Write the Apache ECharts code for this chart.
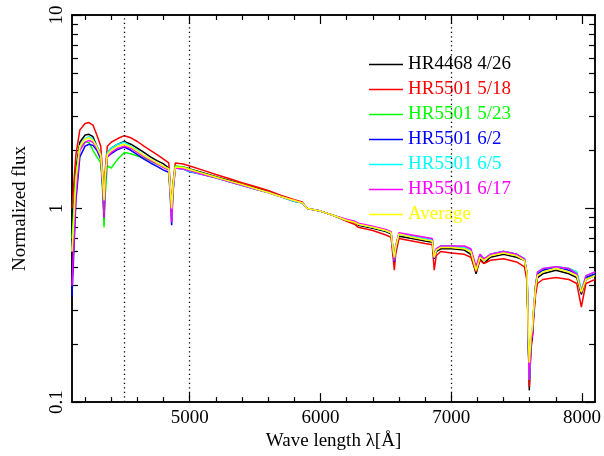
<!DOCTYPE html>
<html>
<head>
<meta charset="utf-8">
<script src="https://cdn.jsdelivr.net/npm/echarts@6/dist/echarts.min.js"></script>
<style>
  html, body { margin: 0; padding: 0; background: #fff; }
  #main { width: 604px; height: 456px; }
</style>
</head>
<body>
<div id="main"></div>
<script>
// wavelength grid (Angstrom) shared by all spectra
const wavelength = [
  4100, 4130, 4160, 4200, 4230, 4260, 4290, 4320, 4335, 4345,
  4355, 4370, 4400, 4450, 4500, 4550, 4600, 4650, 4700, 4750,
  4800, 4840, 4852, 4862, 4872, 4890, 4950, 5000, 5100, 5200,
  5300, 5400, 5500, 5600, 5700, 5800, 5860, 5900, 6000, 6100,
  6200, 6260, 6290, 6400, 6500, 6540, 6555, 6565, 6575, 6600,
  6700, 6800, 6855, 6870, 6885, 6920, 7000, 7100, 7150, 7190,
  7220, 7250, 7300, 7400, 7500, 7560, 7580, 7590, 7597, 7610,
  7620, 7630, 7645, 7660, 7700, 7800, 7900, 7960, 7995, 8030,
  8100
];

const hr4468_0426 = [
  0.75, 1.6, 2.2, 2.40, 2.42, 2.35, 2.1, 1.9, 1.4, 1.05,
  1.5, 1.95, 2.05, 2.15, 2.22, 2.15, 2.05, 1.95, 1.85, 1.77,
  1.7, 1.62, 1.25, 0.95, 1.3, 1.65, 1.64, 1.6, 1.53, 1.46,
  1.40, 1.34, 1.28, 1.22, 1.16, 1.10, 1.07, 1.0, 0.97, 0.92,
  0.87, 0.85, 0.82, 0.79, 0.76, 0.74, 0.6, 0.53, 0.62, 0.72,
  0.70, 0.68, 0.67, 0.55, 0.6, 0.62, 0.62, 0.61, 0.58, 0.46,
  0.55, 0.52, 0.56, 0.58, 0.56, 0.54, 0.45, 0.2, 0.115, 0.2,
  0.22, 0.28, 0.38, 0.44, 0.46, 0.48, 0.46, 0.44, 0.36, 0.43,
  0.45
];
const hr5501_0518 = [
  1.0, 1.9, 2.55, 2.75, 2.78, 2.7, 2.4, 2.1, 1.5, 1.1,
  1.6, 2.1, 2.2, 2.3, 2.38, 2.32, 2.22, 2.1, 2.0, 1.9,
  1.8, 1.72, 1.3, 0.98, 1.35, 1.72, 1.7, 1.66, 1.58, 1.5,
  1.43, 1.36, 1.3, 1.24, 1.17, 1.11, 1.08, 1.0, 0.97, 0.92,
  0.86, 0.83, 0.8, 0.77, 0.73, 0.71, 0.56, 0.48, 0.58, 0.70,
  0.68, 0.66, 0.65, 0.48, 0.57, 0.6, 0.59, 0.58, 0.56, 0.47,
  0.54, 0.52, 0.54, 0.55, 0.53, 0.5, 0.42, 0.2, 0.12, 0.19,
  0.21, 0.27, 0.36, 0.41, 0.43, 0.44, 0.43, 0.41, 0.31, 0.41,
  0.43
];
const hr5501_0523 = [
  0.7, 1.5, 2.1, 2.2, 2.2, 2.0, 1.85, 1.72, 1.2, 0.8,
  1.2, 1.66, 1.62, 1.8, 1.95, 1.92, 1.87, 1.82, 1.76, 1.7,
  1.64, 1.6, 1.2, 0.92, 1.3, 1.66, 1.64, 1.59, 1.52, 1.45,
  1.38, 1.32, 1.26, 1.21, 1.15, 1.09, 1.07, 1.0, 0.97, 0.92,
  0.87, 0.86, 0.83, 0.8, 0.77, 0.75, 0.61, 0.54, 0.63, 0.74,
  0.72, 0.7, 0.69, 0.56, 0.61, 0.64, 0.64, 0.63, 0.6, 0.48,
  0.57, 0.54, 0.58, 0.6, 0.58, 0.55, 0.46, 0.21, 0.13, 0.21,
  0.23, 0.3, 0.4, 0.46, 0.48, 0.5, 0.49, 0.47, 0.38, 0.44,
  0.46
];
const hr5501_0602 = [
  0.35, 1.1, 1.85, 2.1, 2.15, 2.12, 2.0, 1.8, 1.3, 0.9,
  1.4, 1.85, 1.92, 2.02, 2.08, 2.0, 1.9, 1.8, 1.72, 1.65,
  1.58, 1.54, 1.15, 0.82, 1.2, 1.62, 1.6, 1.55, 1.5, 1.44,
  1.38, 1.32, 1.26, 1.21, 1.15, 1.09, 1.07, 1.0, 0.97, 0.92,
  0.87, 0.86, 0.83, 0.8, 0.77, 0.75, 0.61, 0.53, 0.63, 0.74,
  0.72, 0.7, 0.69, 0.55, 0.61, 0.64, 0.64, 0.63, 0.61, 0.49,
  0.58, 0.54, 0.58, 0.6, 0.58, 0.55, 0.46, 0.2, 0.13, 0.2,
  0.22, 0.29, 0.4, 0.46, 0.48, 0.5, 0.48, 0.46, 0.37, 0.44,
  0.46
];
const hr5501_0605 = [
  0.6, 1.4, 2.1, 2.3, 2.35, 2.28, 2.1, 1.9, 1.4, 0.95,
  1.45, 1.95, 2.05, 2.15, 2.2, 2.1, 2.0, 1.88, 1.8, 1.72,
  1.65, 1.6, 1.2, 0.9, 1.25, 1.62, 1.6, 1.56, 1.5, 1.44,
  1.38, 1.32, 1.26, 1.21, 1.15, 1.09, 1.07, 1.0, 0.97, 0.92,
  0.87, 0.86, 0.83, 0.8, 0.77, 0.75, 0.61, 0.54, 0.63, 0.74,
  0.72, 0.7, 0.69, 0.56, 0.61, 0.64, 0.64, 0.63, 0.61, 0.49,
  0.58, 0.55, 0.58, 0.6, 0.58, 0.55, 0.46, 0.21, 0.13, 0.21,
  0.23, 0.3, 0.4, 0.47, 0.49, 0.5, 0.49, 0.47, 0.38, 0.45,
  0.47
];
const hr5501_0617 = [
  0.4, 1.2, 2.0, 2.2, 2.25, 2.2, 2.05, 1.85, 1.3, 0.9,
  1.4, 1.85, 1.95, 2.05, 2.1, 2.05, 1.95, 1.85, 1.77, 1.7,
  1.63, 1.58, 1.2, 0.85, 1.25, 1.62, 1.6, 1.57, 1.5, 1.44,
  1.38, 1.32, 1.26, 1.21, 1.15, 1.1, 1.07, 1.0, 0.97, 0.92,
  0.88, 0.86, 0.84, 0.81, 0.78, 0.76, 0.62, 0.54, 0.64, 0.75,
  0.73, 0.71, 0.7, 0.56, 0.62, 0.64, 0.64, 0.64, 0.62, 0.5,
  0.58, 0.55, 0.58, 0.6, 0.58, 0.55, 0.46, 0.21, 0.13, 0.21,
  0.22, 0.3, 0.4, 0.47, 0.49, 0.5, 0.49, 0.46, 0.37, 0.45,
  0.47
];
const average = [
  0.6, 1.4, 2.1, 2.28, 2.32, 2.25, 2.08, 1.88, 1.4, 1.1,
  1.5, 1.9, 2.0, 2.1, 2.15, 2.08, 1.98, 1.88, 1.8, 1.72,
  1.65, 1.6, 1.25, 1.0, 1.3, 1.64, 1.63, 1.59, 1.52, 1.45,
  1.39, 1.33, 1.27, 1.21, 1.15, 1.1, 1.07, 1.0, 0.97, 0.92,
  0.87, 0.85, 0.83, 0.8, 0.77, 0.75, 0.62, 0.56, 0.63, 0.74,
  0.71, 0.69, 0.68, 0.56, 0.61, 0.63, 0.63, 0.62, 0.6, 0.48,
  0.56, 0.54, 0.57, 0.59, 0.57, 0.54, 0.46, 0.22, 0.16, 0.22,
  0.24, 0.3, 0.39, 0.45, 0.47, 0.49, 0.47, 0.45, 0.37, 0.43,
  0.45
];

const seriesNames = ['HR4468 4/26', 'HR5501 5/18', 'HR5501 5/23', 'HR5501 6/2', 'HR5501 6/5', 'HR5501 6/17', 'Average'];
const seriesColors = ['#000000', '#ff0000', '#00ff00', '#0000ff', '#00ffff', '#ff00ff', '#ffff00'];
const seriesFlux = [hr4468_0426, hr5501_0518, hr5501_0523, hr5501_0602, hr5501_0605, hr5501_0617, average];

// tick positions
const xMinorTicks = [4200, 4400, 4600, 4800, 5200, 5400, 5600, 5800, 6200, 6400, 6600, 6800, 7200, 7400, 7600, 7800];
const xLabels = [5000, 6000, 7000, 8000];
const yMinorTicks = [0.2, 0.3, 0.4, 0.5, 0.6, 0.7, 0.8, 0.9, 2, 3, 4, 5, 6, 7, 8, 9];
const yLabels = [0.1, 1, 10];
const markerWavelengths = [4500, 5000, 7000];

const FONT = 'Liberation Serif';
const X_MIN = 4100, X_MAX = 8100, Y_MIN = 0.1, Y_MAX = 10;
var myChart = echarts.init(document.getElementById('main'));

function xAxisDef(position, ticks, len, withLabels) {
  return {
    type: 'value',
    position: position,
    min: X_MIN,
    max: X_MAX,
    axisLine: { show: true, lineStyle: { color: '#000', width: 1.5 } },
    axisTick: { show: true, inside: true, length: len, customValues: ticks, lineStyle: { color: '#000', width: 1.2 } },
    axisLabel: withLabels ? {
      show: true, customValues: xLabels, color: '#000', fontFamily: FONT, fontSize: 19, margin: 6,
      formatter: function (v) { return String(v); }
    } : { show: false },
    splitLine: { show: false },
    name: withLabels ? 'Wave length λ[Å]' : '',
    nameLocation: 'middle',
    nameGap: 24,
    nameTextStyle: { color: '#000', fontFamily: FONT, fontSize: 19 }
  };
}
function yAxisDef(position, ticks, len, withLabels) {
  return {
    type: 'log',
    logBase: 10,
    position: position,
    min: Y_MIN,
    max: Y_MAX,
    axisLine: { show: true, lineStyle: { color: '#000', width: 1.5 } },
    axisTick: { show: true, inside: true, length: len, customValues: ticks, lineStyle: { color: '#000', width: 1.2 } },
    axisLabel: withLabels ? {
      show: true, customValues: yLabels, rotate: 90, color: '#000', fontFamily: FONT, fontSize: 19, margin: 5,
      formatter: function (v) { return String(+Number(v).toPrecision(3)); }
    } : { show: false },
    splitLine: { show: false },
    name: withLabels ? 'Normalized flux' : '',
    nameLocation: 'middle',
    nameGap: 42,
    nameTextStyle: { color: '#000', fontFamily: FONT, fontSize: 19 }
  };
}

const series = seriesNames.map(function (name, k) {
  const s = {
    name: name,
    type: 'line',
    showSymbol: false,
    symbol: 'none',
    lineStyle: { color: seriesColors[k], width: 1.5 },
    itemStyle: { color: seriesColors[k] },
    z: 3 + k,
    data: wavelength.map(function (w, i) { return [w, seriesFlux[k][i]]; })
  };
  if (k === 0) {
    s.markLine = {
      silent: true,
      symbol: 'none',
      label: { show: false },
      lineStyle: { color: '#000', width: 1.3, type: [1.3, 3.2] },
      data: markerWavelengths.map(function (w) { return { xAxis: w }; })
    };
  }
  return s;
});

const option = {
  backgroundColor: '#fff',
  animation: false,
  grid: { left: 72, right: 3, top: 15, bottom: 49 },
  legend: {
    orient: 'vertical',
    left: 364,
    top: 50,
    icon: 'rect',
    itemWidth: 34,
    itemHeight: 1.5,
    itemGap: 6,
    selectedMode: false,
    textStyle: { fontFamily: FONT, fontSize: 19 },
    data: seriesNames.map(function (n, k) {
      return { name: n, textStyle: { color: seriesColors[k], fontFamily: FONT, fontSize: 19 } };
    })
  },
  xAxis: [
    xAxisDef('bottom', xMinorTicks, 5, true),
    xAxisDef('bottom', xLabels, 9, false),
    xAxisDef('top', xMinorTicks, 5, false),
    xAxisDef('top', xLabels, 9, false)
  ],
  yAxis: [
    yAxisDef('left', yMinorTicks, 6, false),
    yAxisDef('left', yLabels, 10, true),
    yAxisDef('right', yMinorTicks, 6, false),
    yAxisDef('right', yLabels, 10, false)
  ],
  series: series
};
myChart.setOption(option);
</script>
</body>
</html>
